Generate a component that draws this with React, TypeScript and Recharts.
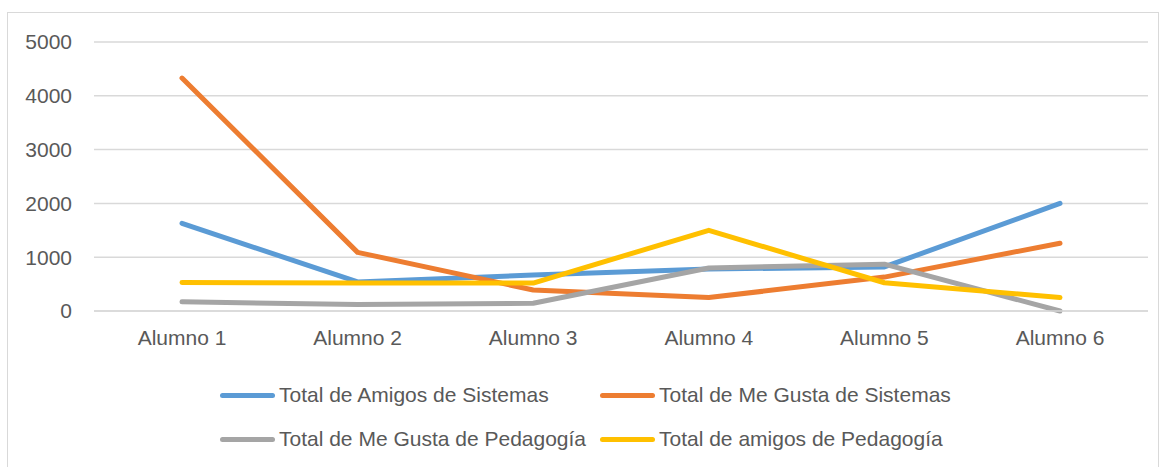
import { LineChart, Line, XAxis, YAxis, CartesianGrid, Legend } from 'recharts';

const alumnos = ['Alumno 1', 'Alumno 2', 'Alumno 3', 'Alumno 4', 'Alumno 5', 'Alumno 6'];
const amigosSistemas = [1630, 540, 670, 780, 820, 2000];
const meGustaSistemas = [4330, 1090, 390, 250, 630, 1260];
const meGustaPedagogia = [170, 120, 145, 800, 870, 0];
const amigosPedagogia = [530, 520, 520, 1500, 525, 250];
const yTicks = [0, 1000, 2000, 3000, 4000, 5000];

const series = [
    { key: 'amigosSis', name: 'Total de Amigos de Sistemas', color: '#5B9BD5', values: amigosSistemas },
    { key: 'gustaSis', name: 'Total de Me Gusta de Sistemas', color: '#ED7D31', values: meGustaSistemas },
    { key: 'gustaPed', name: 'Total de Me Gusta de Pedagogía', color: '#A5A5A5', values: meGustaPedagogia },
    { key: 'amigosPed', name: 'Total de amigos de Pedagogía', color: '#FFC000', values: amigosPedagogia },
];

const data = alumnos.map((name, i) => {
    const row: any = { name };
    series.forEach(s => { row[s.key] = s.values[i]; });
    return row;
});

const font = '"Liberation Sans", Arial, sans-serif';
const textColor = '#595959';

function LegendBox() {
    return <div style={{
        display: 'grid', gridTemplateColumns: '380px 380px', gridAutoRows: '44px',
        marginLeft: 220, height: 88, fontFamily: font, fontSize: 21, color: textColor
    }}>
        {series.map(s => <div key={s.key} style={{ display: 'flex', alignItems: 'center', height: 44 }}>
            <span style={{ display: 'inline-block', width: 55, height: 5, borderRadius: 3, background: s.color, marginRight: 4 }} />
            <span style={{ whiteSpace: 'nowrap', lineHeight: '24px' }}>{s.name}</span>
        </div>)}
    </div>
}

export default function App() {
    return <div style={{ position: 'absolute', left: 0, top: 0, width: 1165, height: 467, background: '#fff', overflow: 'hidden' }}>
        <div style={{ position: 'absolute', left: 7, top: 12, width: 1150, height: 480, border: '1px solid #d9d9d9' }} />
        <div style={{ position: 'absolute', left: 0, top: 0 }}>
            <LineChart width={1165} height={467} data={data} margin={{ top: 42, right: 17, left: 0, bottom: 38 }}>
                <CartesianGrid vertical={false} stroke="#d9d9d9" strokeWidth={1.5} />
                <XAxis dataKey="name" tickLine={false} axisLine={{ stroke: '#d9d9d9', strokeWidth: 1.5 }}
                       padding={{ left: 88, right: 88 }} tickMargin={13}
                       tick={{ fill: textColor, fontSize: 21, fontFamily: font }} interval={0} />
                <YAxis width={94} domain={[0, 5000]} ticks={yTicks} tickLine={false} axisLine={false}
                       tickMargin={16} tick={{ fill: textColor, fontSize: 21, fontFamily: font }} />
                <Legend verticalAlign="bottom" content={() => <LegendBox />}
                        wrapperStyle={{ left: 0, top: 373, width: 1165 }} />
                {series.map(s => <Line key={s.key} type="linear" dataKey={s.key} name={s.name} stroke={s.color}
                                       strokeWidth={5} strokeLinecap="round" strokeLinejoin="round"
                                       dot={false} activeDot={false} isAnimationActive={false} />)}
            </LineChart>
        </div>
    </div>
}
